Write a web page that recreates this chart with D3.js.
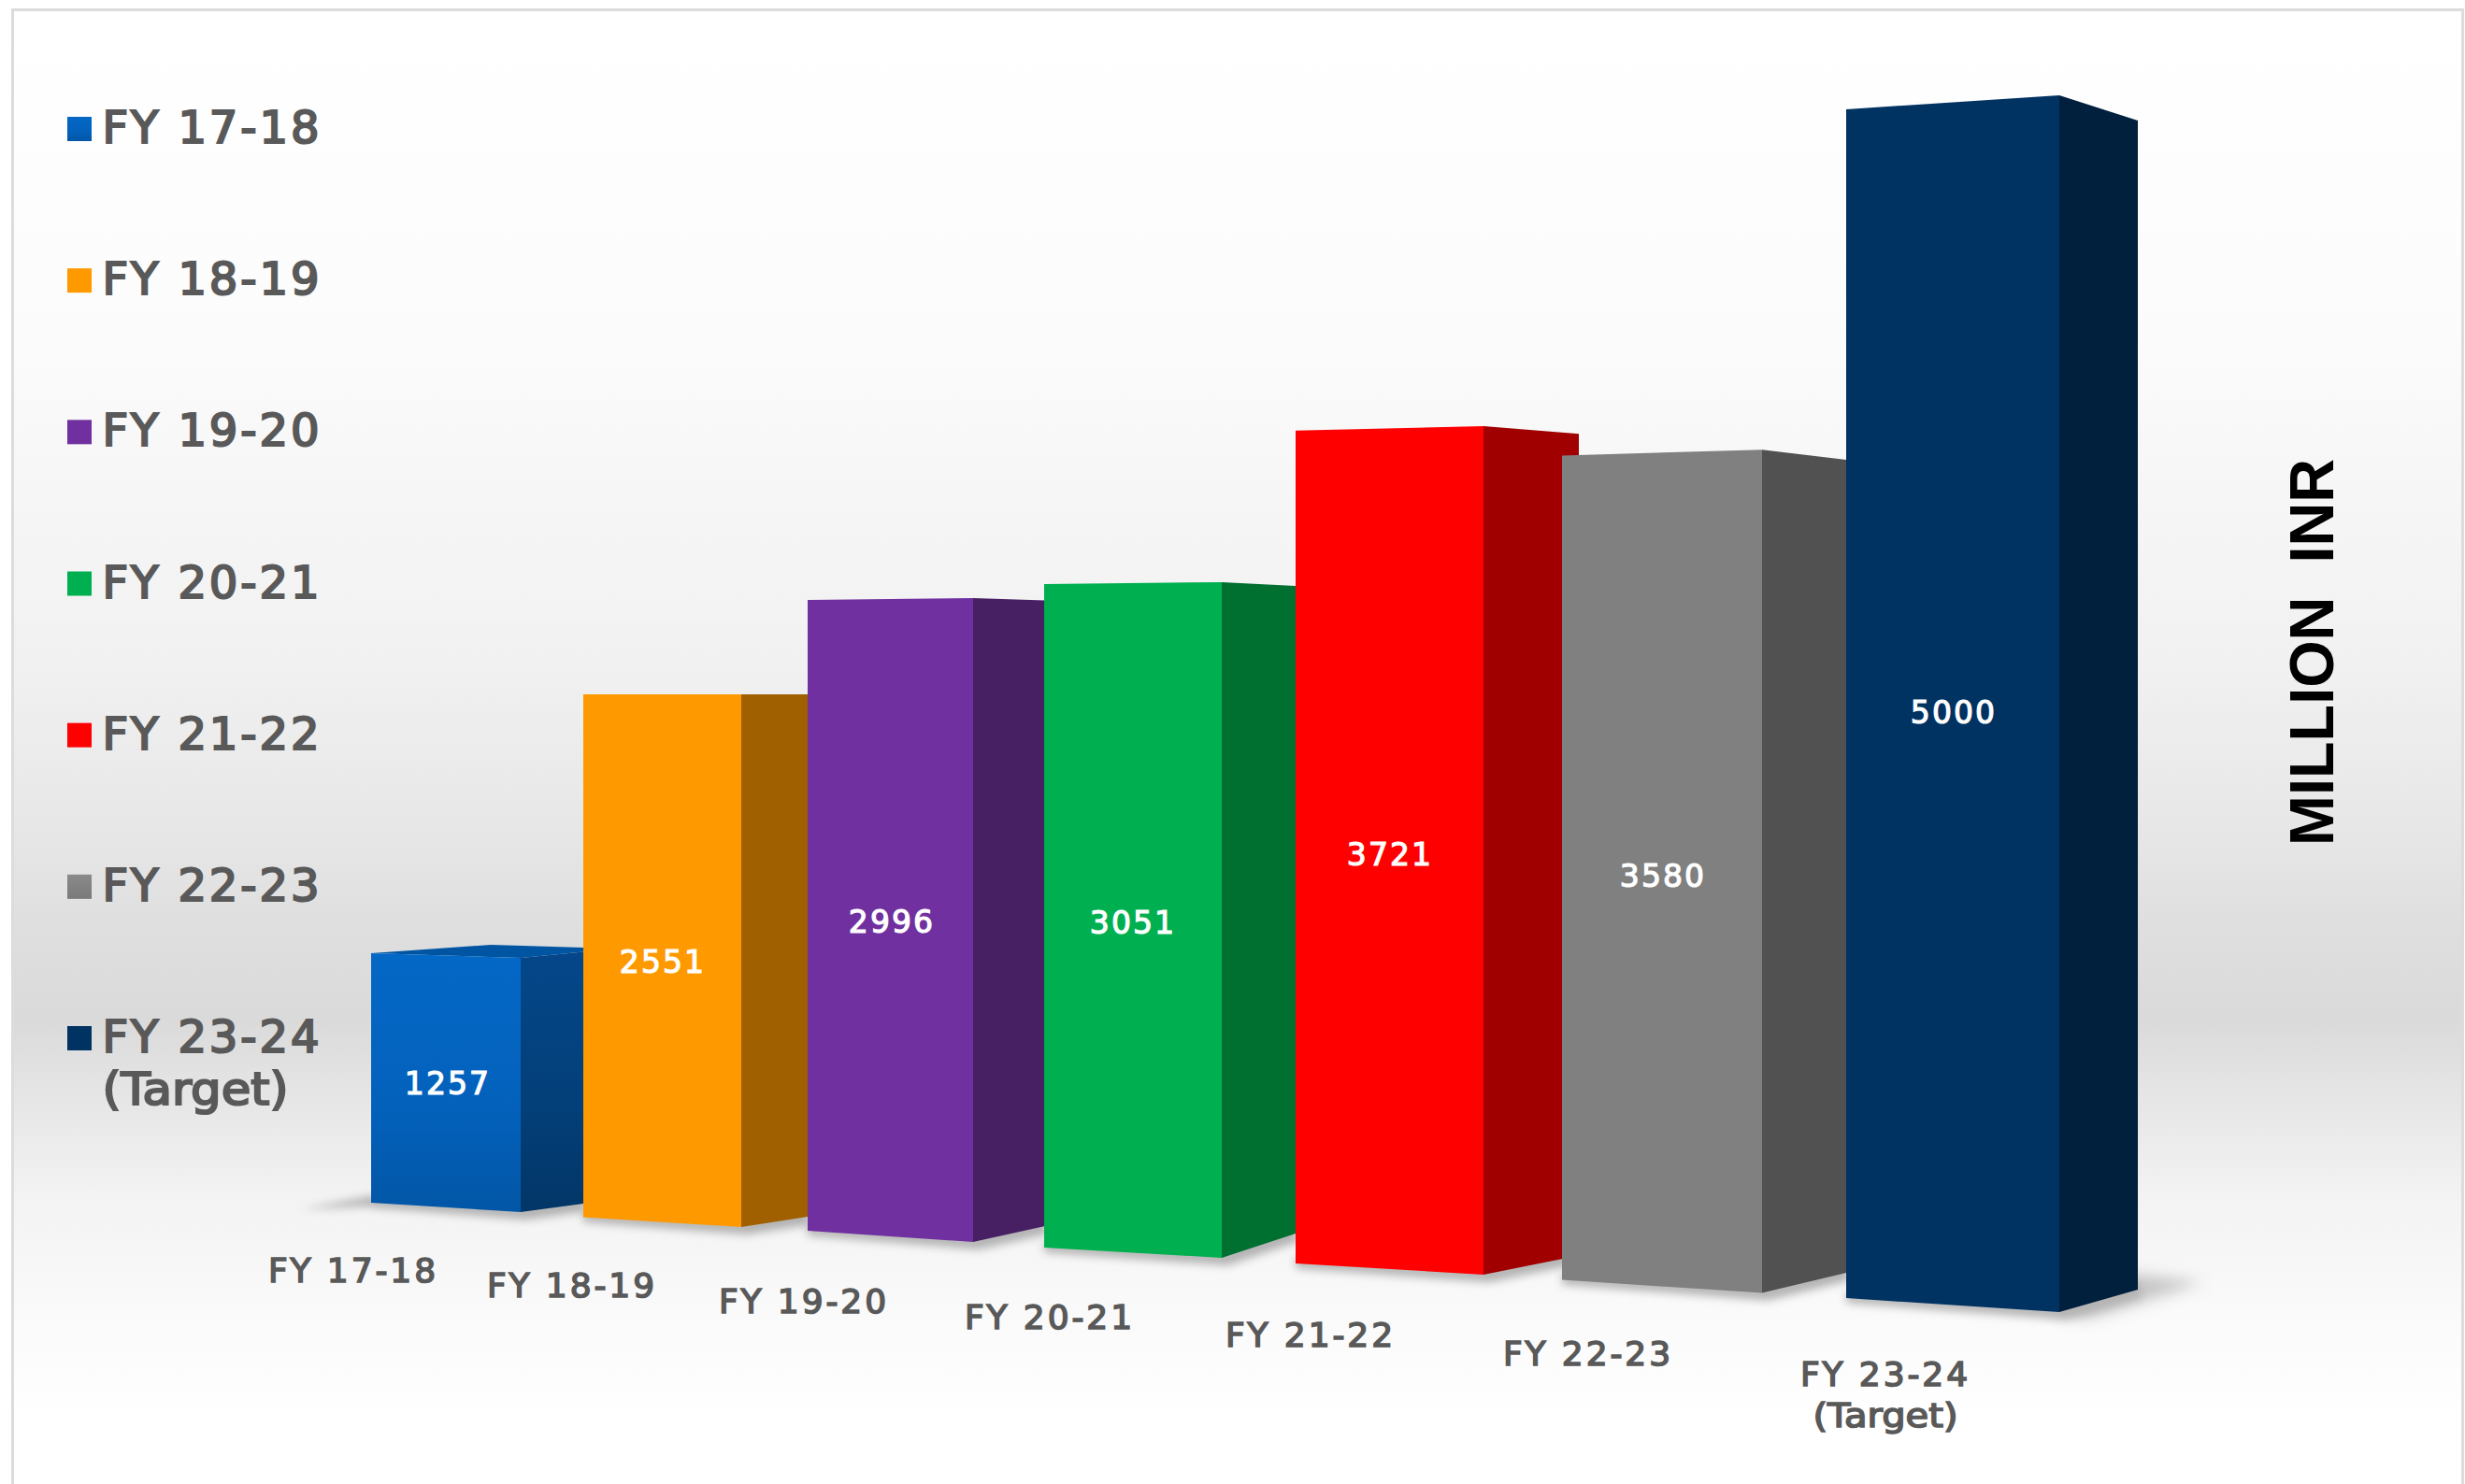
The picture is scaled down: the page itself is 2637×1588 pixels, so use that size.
<!DOCTYPE html>
<html>
<head>
<meta charset="utf-8">
<script src="https://cdn.jsdelivr.net/npm/d3@7/dist/d3.min.js"></script>
<style>
html,body{margin:0;padding:0;background:#fff}
svg{display:block}
text{white-space:pre}
</style>
</head>
<body>
<div id="chart"></div>
<script>
// ---- data ----
const categories = ["FY 17-18","FY 18-19","FY 19-20","FY 20-21","FY 21-22","FY 22-23","FY 23-24"];
const values = [1257,2551,2996,3051,3721,3580,5000];
const categoryNotes = ["","","","","","","(Target)"];
const unitLabel = "MILLION  INR";

// ---- styles ----
const frontColors = ["url(#blueFront)","#ff9900","#7030a0","#00b050","#ff0000","#808080","#003262"];
const sideColors  = ["url(#blueSide)","#a06000","#472063","#007030","#a00000","#515151","#00203d"];
const swatchColors= ["url(#blueFront)","#ff9900","#7030a0","#00b050","#ff0000","url(#graySwatch)","#003262"];

// ---- perspective layout (per-bar screen geometry, separate from the data) ----
const frontLeftX  = [397,624,864,1117,1386,1671,1975];
const frontRightX = [557,793,1041,1307,1587,1885,2203];
const sideBackX   = [624,864,1118,1386,1689,1975,2287];
const baseLeftY   = [1287,1302.5,1317,1335,1352,1369.5,1389];
const baseRightY  = [1297,1313,1329,1346,1364,1383.5,1404];
const baseBackY   = [1288,1302,1312,1320,1343.4,1362,1380];
const pxPerUnitLeft  = [.2124,.2193,.2253,.2327,.2395,.2464,.2544];
const pxPerUnitRight = [.2164,.2234,.2300,.2370,.2440,.2520,.2604];
const pxPerUnitBack  = [.2144,.2191,.2235,.2271,.2363,.2430,.2502];
const labelCenterX = [378,612,860,1123,1402,1699,2017];
const labelBaseY   = [1372,1388,1404.5,1422,1441,1461,1483];
const valueCenterX = [479,709,954,1212,1487,1779,2090];
const valueBaseY   = [1171,1041,998,999,926,949,774];

const W = 2637, H = 1588;
const ord = arr => d3.scaleOrdinal(categories, arr);
const xL = ord(frontLeftX), xR = ord(frontRightX), xS = ord(sideBackX);
const bL = ord(baseLeftY), bR = ord(baseRightY), bS = ord(baseBackY);
const kL = ord(pxPerUnitLeft), kR = ord(pxPerUnitRight), kS = ord(pxPerUnitBack);
const labelX = ord(labelCenterX), labelY = ord(labelBaseY);
const valueX = ord(valueCenterX), valueY = ord(valueBaseY);
const front = ord(frontColors), side = ord(sideColors), swatch = ord(swatchColors);
const height = (k) => d3.scaleLinear().domain([0,1]).range([0,k]);
const topL = (c,v) => bL(c) - height(kL(c))(v);
const topR = (c,v) => bR(c) - height(kR(c))(v);
const topS = (c,v) => bS(c) - height(kS(c))(v);

const legendY = d3.scalePoint().domain(categories).range([138,1111]);
const rows = categories.map((c,i)=>({c,v:values[i],note:categoryNotes[i]}));

const svg = d3.select("#chart").append("svg").attr("width",W).attr("height",H).attr("viewBox",`0 0 ${W} ${H}`);
const defs = svg.append("defs");
function grad(id, stops, attrs){
  const g = defs.append("linearGradient").attr("id",id).attr("x1",0).attr("x2",0).attr("y1",0).attr("y2",1);
  if(attrs) Object.entries(attrs).forEach(([k,v])=>g.attr(k,v));
  stops.forEach(([o,c])=>g.append("stop").attr("offset",o).attr("stop-color",c));
}
grad("bg",[[0,"#ffffff"],[.2,"#fcfcfc"],[.44,"#f1f1f1"],[.55,"#e7e7e7"],[.625,"#dedede"],[.68,"#dadada"],[.73,"#e5e5e5"],[.8,"#f3f3f3"],[.88,"#fafafa"],[.95,"#ffffff"],[1,"#ffffff"]]);
grad("blueFront",[[0,"#0468c6"],[.6,"#0361bb"],[1,"#0256a6"]]);
grad("blueSide",[[0,"#04478a"],[.6,"#033f78"],[1,"#023667"]]);
grad("graySwatch",[[0,"#8a8a8a"],[1,"#7a7a7a"]]);
defs.append("filter").attr("id","soft").attr("x","-10%").attr("y","-50%").attr("width","120%").attr("height","200%")
  .append("feGaussianBlur").attr("stdDeviation",5);
defs.append("filter").attr("id","softer").attr("x","-30%").attr("y","-60%").attr("width","160%").attr("height","220%")
  .append("feGaussianBlur").attr("stdDeviation",8);

// panel
svg.append("rect").attr("x",13.5).attr("y",10.5).attr("width",W-16).attr("height",H)
  .attr("fill","url(#bg)").attr("stroke","#dcdcdc").attr("stroke-width",3);

// ground shadows
const pts = a => a.map(p=>p.join(",")).join(" ");
const shadow = svg.append("g").attr("filter","url(#soft)").attr("fill","#8c8c8c").attr("opacity",.65);
shadow.selectAll("polygon.s").data(rows).join("polygon").attr("class","s")
  .attr("points",d=>pts([
    [xL(d.c),bL(d.c)-6],[xR(d.c),bR(d.c)-6],[xS(d.c),bS(d.c)-8],
    [xS(d.c)+4,bS(d.c)+8],[xR(d.c)+6,bR(d.c)+8],[xL(d.c),bL(d.c)+5]]));
const first = categories[0], last = categories[categories.length-1];
shadow.append("polygon").attr("points",pts([[322,bL(first)+7],[xL(first)+6,bL(first)-8],[xL(first)+6,bL(first)+3]]));
svg.append("polygon").attr("filter","url(#softer)").attr("fill","#b4b4b4").attr("opacity",.75)
  .attr("points",pts([
  [xR(last),bR(last)-40],[xS(last),bS(last)-16],[xS(last)+70,bS(last)-8],[xR(last)+30,bR(last)+7],[xR(last),bR(last)+2]]));

// bars
const bars = svg.append("g").selectAll("g").data(rows).join("g");
bars.filter((d,i)=>i===0).append("polygon")
  .attr("fill","#0055a3")
  .attr("points",d=>pts([
    [xL(d.c),topL(d.c,d.v)],[xR(d.c),topR(d.c,d.v)],[xS(d.c),topS(d.c,d.v)],
    [xS(d.c),topS(d.c,d.v)-4.5],[xL(d.c)+128,topL(d.c,d.v)-9]]));
bars.append("polygon").attr("fill",d=>side(d.c))
  .attr("points",d=>pts([[xR(d.c),topR(d.c,d.v)],[xS(d.c),topS(d.c,d.v)],[xS(d.c),bS(d.c)],[xR(d.c),bR(d.c)]]));
bars.append("polygon").attr("fill",d=>front(d.c))
  .attr("points",d=>pts([[xL(d.c),topL(d.c,d.v)],[xR(d.c),topR(d.c,d.v)],[xR(d.c),bR(d.c)],[xL(d.c),bL(d.c)]]));

// value labels
const family = "'DejaVu Sans', sans-serif";
svg.append("g").selectAll("text").data(rows).join("text")
  .attr("x",d=>valueX(d.c)).attr("y",d=>valueY(d.c)).attr("text-anchor","middle")
  .attr("font-family",family).attr("font-size",33).attr("letter-spacing",2.1)
  .attr("fill","#fff").attr("stroke","#fff").attr("stroke-width",1.2)
  .text(d=>d.v);

// category labels
const cat = svg.append("g").selectAll("g").data(rows).join("g");
const catStyle = s => s.attr("text-anchor","middle").attr("font-family",family).attr("font-size",36)
  .attr("letter-spacing",2.9).attr("fill","#595959").attr("stroke","#595959").attr("stroke-width",1.6);
cat.append("text").call(catStyle).attr("x",d=>labelX(d.c)).attr("y",d=>labelY(d.c)).text(d=>d.c);
cat.filter(d=>d.note).append("text").call(catStyle).attr("x",d=>labelX(d.c)).attr("y",d=>labelY(d.c)+44)
  .attr("letter-spacing",null).attr("textLength",155).attr("lengthAdjust","spacingAndGlyphs").text(d=>d.note);

// legend
const leg = svg.append("g").selectAll("g").data(rows).join("g");
leg.append("rect").attr("x",72).attr("y",d=>legendY(d.c)-13).attr("width",26).attr("height",26).attr("fill",d=>swatch(d.c));
const legStyle = s => s.attr("x",109.5).attr("font-family",family).attr("font-size",48)
  .attr("letter-spacing",2.9).attr("fill","#595959").attr("stroke","#595959").attr("stroke-width",2.2);
leg.append("text").call(legStyle).attr("y",d=>legendY(d.c)+15).text(d=>d.c);
leg.filter(d=>d.note).append("text").call(legStyle).attr("y",d=>legendY(d.c)+71)
  .attr("letter-spacing",null).attr("textLength",199).attr("lengthAdjust","spacingAndGlyphs").text(d=>d.note);

// unit label
svg.append("text").attr("transform","translate(2496,905) rotate(-90)")
  .attr("font-family","'Liberation Sans', Arial, sans-serif").attr("font-weight",700).attr("font-size",67)
  .attr("textLength",414).attr("lengthAdjust","spacingAndGlyphs").attr("fill","#000").text(unitLabel);
</script>
</body>
</html>
